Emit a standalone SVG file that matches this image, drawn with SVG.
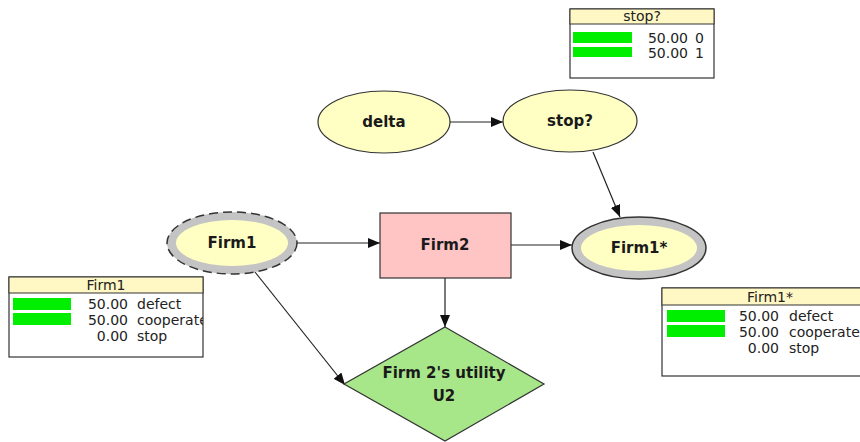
<svg xmlns="http://www.w3.org/2000/svg" width="860" height="442" viewBox="0 0 860 442">
<style>
.lbl{font-family:"DejaVu Sans","Verdana",sans-serif;font-weight:bold;font-size:15px;fill:#1a1a1a;text-anchor:middle}
.tt{font-family:"DejaVu Sans","Verdana",sans-serif;font-size:14px;fill:#222}
.num{text-anchor:end}
.hd{text-anchor:middle}
.ell{fill:#ffffc4;stroke:#333;stroke-width:1.2}
.box{fill:#fff;stroke:#333;stroke-width:1.2}
.hdr{fill:#fff8c4;stroke:#333;stroke-width:1}
.bar{fill:#00ee00}
.edge{stroke:#222;stroke-width:1.2;fill:none;marker-end:url(#ah)}
</style>
<defs>
<marker id="ah" viewBox="0 0 12 10" refX="12" refY="5" markerWidth="12" markerHeight="10" markerUnits="userSpaceOnUse" orient="auto">
<path d="M0,0 L12,5 L0,10 Z" fill="#111"/>
</marker>
<clipPath id="c1"><rect x="9" y="277" width="194" height="80"/></clipPath>
<clipPath id="c2"><rect x="662" y="288" width="198" height="88"/></clipPath>
</defs>
<rect width="860" height="442" fill="#fff"/>
<g id="connectors">
<line class="edge" x1="450" y1="122" x2="503" y2="122"/>
<line class="edge" x1="593" y1="152" x2="620" y2="217"/>
<line class="edge" x1="297" y1="243" x2="380" y2="243"/>
<line class="edge" x1="511" y1="245" x2="572" y2="245"/>
<line class="edge" x1="445" y1="278" x2="445" y2="327"/>
<line class="edge" x1="255" y1="272" x2="345" y2="385"/>
</g>
<g id="delta">
<ellipse class="ell" cx="384" cy="122" rx="66" ry="31"/>
<text class="lbl" x="384" y="127">delta</text>
</g>
<g id="stop">
<ellipse class="ell" cx="570" cy="121" rx="67" ry="31"/>
<text class="lbl" x="570" y="126">stop?</text>
</g>
<g id="firm1">
<ellipse cx="232" cy="243" rx="65" ry="31" fill="#c4c4c4" stroke="#333" stroke-width="1.5" stroke-dasharray="9,5"/>
<ellipse cx="232" cy="243" rx="56" ry="23" fill="#ffffc4"/>
<text class="lbl" x="232" y="248">Firm1</text>
</g>
<g id="firm1star">
<ellipse cx="639" cy="248" rx="67" ry="31" fill="#c4c4c4" stroke="#333" stroke-width="1.5"/>
<ellipse cx="639" cy="248" rx="58" ry="23" fill="#ffffc4"/>
<text class="lbl" x="639" y="253">Firm1*</text>
</g>
<g id="firm2">
<rect x="380" y="213" width="131" height="65" fill="#ffc4c4" stroke="#333" stroke-width="1.2"/>
<text class="lbl" x="445" y="250">Firm2</text>
</g>
<g id="utility">
<polygon points="445,327 544,384 445,441 344,384" fill="#a8e68a" stroke="#333" stroke-width="1.2"/>
<text class="lbl" x="444" y="378">Firm 2's utility</text>
<text class="lbl" x="444" y="401">U2</text>
</g>
<g id="table-stop">
<rect class="box" x="570" y="9" width="144" height="69"/>
<rect class="hdr" x="570" y="9" width="144" height="15"/>
<text class="tt hd" x="642" y="21">stop?</text>
<rect class="bar" x="573" y="32" width="59" height="11"/>
<rect class="bar" x="573" y="47" width="59" height="10"/>
<text class="tt num" x="688" y="43">50.00</text>
<text class="tt" x="695" y="43">0</text>
<text class="tt num" x="688" y="58">50.00</text>
<text class="tt" x="695" y="58">1</text>
</g>
<g id="table-firm1">
<rect class="box" x="9" y="277" width="194" height="80"/>
<rect class="hdr" x="9" y="277" width="194" height="16"/>
<text class="tt hd" x="106" y="290">Firm1</text>
<rect class="bar" x="13" y="298" width="58" height="12"/>
<rect class="bar" x="13" y="313" width="58" height="12"/>
<g clip-path="url(#c1)">
<text class="tt num" x="128" y="309">50.00</text>
<text class="tt" x="137" y="309">defect</text>
<text class="tt num" x="128" y="325">50.00</text>
<text class="tt" x="137" y="325">cooperate</text>
<text class="tt num" x="128" y="341">0.00</text>
<text class="tt" x="137" y="341">stop</text>
</g>
</g>
<g id="table-firm1star">
<rect class="box" x="662" y="288" width="200" height="88"/>
<rect class="hdr" x="662" y="288" width="200" height="17"/>
<text class="tt hd" x="770" y="302">Firm1*</text>
<rect class="bar" x="667" y="310" width="58" height="12"/>
<rect class="bar" x="667" y="325" width="58" height="12"/>
<g clip-path="url(#c2)">
<text class="tt num" x="779" y="321">50.00</text>
<text class="tt" x="789" y="321">defect</text>
<text class="tt num" x="779" y="337">50.00</text>
<text class="tt" x="789" y="337">cooperate</text>
<text class="tt num" x="779" y="353">0.00</text>
<text class="tt" x="789" y="353">stop</text>
</g>
</g>
</svg>
